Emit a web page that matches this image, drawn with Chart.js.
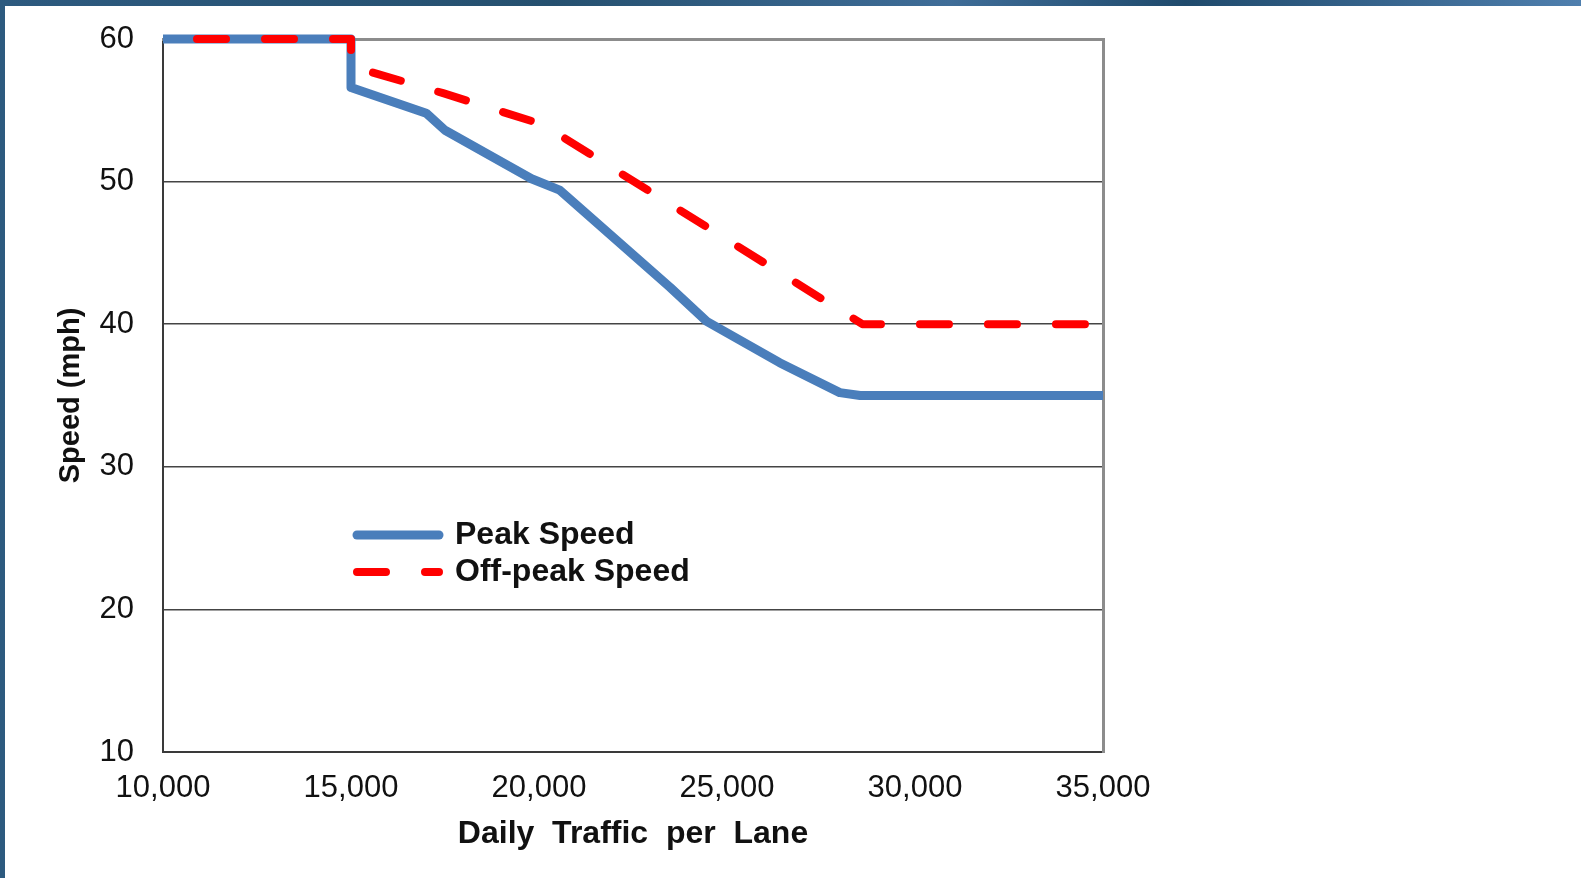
<!DOCTYPE html>
<html>
<head>
<meta charset="utf-8">
<title>Speed vs Daily Traffic per Lane</title>
<script src="https://cdn.jsdelivr.net/npm/chart.js@4.4.1/dist/chart.umd.min.js"></script>
<style>
  html, body { margin: 0; padding: 0; width: 1581px; height: 878px; overflow: hidden; }
  body { background: linear-gradient(90deg, #2d5a7f 0%, #25506f 35%, #3f6d98 60%, #1f4a6c 75%, #4f7fae 100%); position: relative; }
  #slide { position: absolute; left: 5px; top: 6px; right: 0; bottom: 0; background: #fff; }
  #chart { position: absolute; left: 0; top: 0; }
</style>
</head>
<body>
<div id="slide"></div>
<canvas id="chart" width="1581" height="878"></canvas>
<script>
// values
const peakX    = [10000, 15000, 15000, 17000, 17500, 19800, 20550, 23480, 24460, 26400, 28000, 28540, 35000];
const peakY    = [60,    60,    56.6,  54.8,  53.6,  50.2,  49.4,  42.6,  40.2,  37.3,  35.2,  35,    35];
const offPeakX = [10000, 15000, 15000, 17450, 20100, 28600, 35000];
const offPeakY = [60,    60,    58.1,  56.2,  54.0,  40,    40];

const xTickValues = [10000, 15000, 20000, 25000, 30000, 35000];
const yTickValues = [10, 20, 30, 40, 50, 60];

const seriesNames = ['Peak Speed', 'Off-peak Speed'];

const BLUE = '#4a7ebb';
const RED = '#ff0000';
const FONT = '"Liberation Sans", Arial, sans-serif';

Chart.defaults.font.family = FONT;
Chart.defaults.color = '#111';

function pts(xs, ys) {
  return xs.map((x, i) => ({ x: x, y: ys[i] }));
}

function fixTicks(values) {
  return scale => { scale.ticks = values.map(v => ({ value: v })); };
}

// put the legend box inside the plot, left-middle like the original
const legendPlacer = {
  id: 'legendPlacer',
  afterLayout(chart) {
    const lg = chart.legend;
    const area = chart.chartArea;
    const w = lg.width, h = lg.height;
    lg.left = area.left + 189;
    lg.top = area.top + 475;
    lg.right = lg.left + w;
    lg.bottom = lg.top + h;
  }
};

new Chart(document.getElementById('chart'), {
  type: 'line',
  data: {
    datasets: [
      {
        label: seriesNames[0],
        data: pts(peakX, peakY),
        borderColor: BLUE,
        backgroundColor: BLUE,
        borderWidth: 9,
        borderJoinStyle: 'round',
        borderCapStyle: 'butt',
        pointRadius: 0,
        tension: 0,
        clip: false,
        order: 1
      },
      {
        label: seriesNames[1],
        data: pts(offPeakX, offPeakY),
        borderColor: RED,
        backgroundColor: RED,
        borderWidth: 8,
        borderDash: [29, 39],
        borderDashOffset: 34,
        borderJoinStyle: 'round',
        borderCapStyle: 'round',
        pointRadius: 0,
        tension: 0,
        clip: false,
        order: 0
      }
    ]
  },
  options: {
    responsive: false,
    animation: false,
    events: [],
    layout: { padding: { left: 0, top: 39, right: 478, bottom: 0 } },
    plugins: {
      tooltip: { enabled: false },
      legend: {
        display: true,
        position: 'chartArea',
        align: 'start',
        labels: {
          usePointStyle: true,
          pointStyle: 'line',
          pointStyleWidth: 82,
          padding: 5,
          color: '#111',
          font: { family: FONT, size: 32, weight: 'bold' },
          generateLabels(chart) {
            const items = Chart.defaults.plugins.legend.labels.generateLabels(chart);
            items.sort((a, b) => a.datasetIndex - b.datasetIndex);
            return items.map(it => {
              const ds = chart.data.datasets[it.datasetIndex];
              return Object.assign(it, {
                lineDash: ds.borderDash || [],
                lineDashOffset: 0,
                lineWidth: ds.borderWidth,
                strokeStyle: ds.borderColor,
                lineCap: 'round',
                pointStyle: 'line'
              });
            });
          }
        }
      }
    },
    scales: {
      x: {
        type: 'linear',
        position: 'bottom',
        min: 10000,
        max: 35000,
        afterBuildTicks: fixTicks(xTickValues),
        afterFit(s) { s.height = 126; },
        ticks: {
          padding: 18,
          maxRotation: 0,
          color: '#111',
          font: { family: FONT, size: 31 },
          callback: v => v.toLocaleString('en-US')
        },
        grid: { display: false, drawTicks: false },
        border: { display: true, color: '#3a3a3a', width: 2 },
        title: {
          display: true,
          text: 'Daily  Traffic  per  Lane',
          color: '#111',
          font: { family: FONT, size: 32, weight: 'bold' },
          padding: { top: 0, bottom: 25 }
        }
      },
      y: {
        type: 'linear',
        position: 'left',
        min: 10,
        max: 60,
        afterBuildTicks: fixTicks(yTickValues),
        afterFit(s) {
          s.width = 163;
          // the label padding should not push the plot down
          s.paddingTop = 0;
          s.paddingBottom = 0;
        },
        ticks: {
          padding: 29,
          color: '#111',
          font: { family: FONT, size: 31 }
        },
        grid: { color: '#444', lineWidth: 1.5, drawTicks: false },
        border: { display: true, color: '#3a3a3a', width: 2 },
        title: {
          display: true,
          text: 'Speed (mph)',
          color: '#111',
          font: { family: FONT, size: 29, weight: 'bold' },
          padding: { top: 54, bottom: 0 }
        }
      },
      xTop: {
        type: 'linear',
        position: 'top',
        min: 10000,
        max: 35000,
        afterFit(s) { s.height = 0; },
        ticks: { display: false },
        grid: { display: false, drawTicks: false },
        border: { display: true, color: '#8c8c8c', width: 3 }
      },
      yRight: {
        type: 'linear',
        position: 'right',
        min: 10,
        max: 60,
        afterFit(s) { s.width = 0; s.paddingTop = 0; s.paddingBottom = 0; },
        ticks: { display: false },
        grid: { display: false, drawTicks: false },
        border: { display: true, color: '#8c8c8c', width: 3 }
      }
    }
  },
  plugins: [legendPlacer]
});
</script>
</body>
</html>
